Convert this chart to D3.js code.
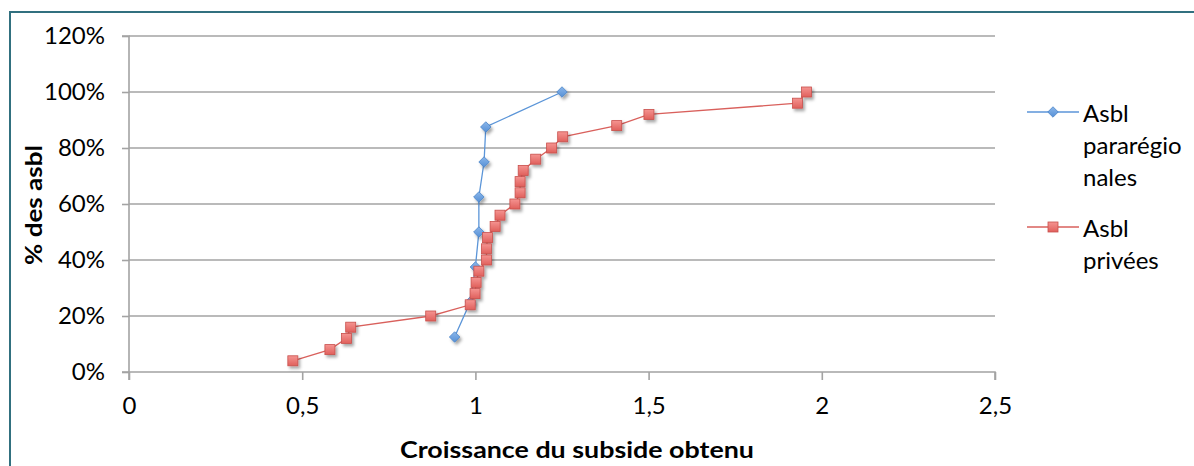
<!DOCTYPE html>
<html>
<head>
<meta charset="utf-8">
<script src="https://cdn.jsdelivr.net/npm/d3@7"></script>
<style>
  html, body { margin: 0; padding: 0; background: #fff; }
  svg { display: block; }
  text { font-family: Lato, "Open Sans", sans-serif; fill: #000; }
</style>
</head>
<body>
<svg id="chart" width="1194" height="466"></svg>
<script>
// Cumulative distribution of subsidy growth, two groups of non-profits
const seriesNames = ["Asbl pararégionales", "Asbl privées"];

// Asbl pararégionales
const paraGrowth = [0.94, 0.985, 1.0, 1.01, 1.01, 1.025, 1.03, 1.25];
const paraShare  = [0.125, 0.25, 0.375, 0.5, 0.625, 0.75, 0.875, 1.0];

// Asbl privées
const privGrowth = [0.473, 0.58, 0.628, 0.64, 0.871, 0.985, 0.999, 1.002, 1.01,
                    1.032, 1.032, 1.035, 1.057, 1.071, 1.114, 1.129, 1.129, 1.138,
                    1.174, 1.22, 1.252, 1.408, 1.501, 1.93, 1.956];
const privShare  = [0.04, 0.08, 0.12, 0.16, 0.20, 0.24, 0.28, 0.32, 0.36, 0.40,
                    0.44, 0.48, 0.52, 0.56, 0.60, 0.64, 0.68, 0.72, 0.76, 0.80,
                    0.84, 0.88, 0.92, 0.96, 1.00];

const xTicks = [0, 0.5, 1, 1.5, 2, 2.5];
const yTicks = [0, 0.2, 0.4, 0.6, 0.8, 1.0, 1.2];

const xTitle = "Croissance du subside obtenu";
const yTitle = "% des asbl";

const svg = d3.select("#chart");

const x = d3.scaleLinear().domain([0, 2.5]).range([129, 995]);
const y = d3.scaleLinear().domain([0, 1.2]).range([372, 36]);

// drop shadow for markers
const defs = svg.append("defs");
const sh = defs.append("filter").attr("id", "shadow")
  .attr("x", "-50%").attr("y", "-50%").attr("width", "200%").attr("height", "200%");
sh.append("feDropShadow").attr("dx", 2).attr("dy", 2.5).attr("stdDeviation", 1.6)
  .attr("flood-color", "#000").attr("flood-opacity", 0.35);

const gRed = defs.append("linearGradient").attr("id", "gRed")
  .attr("x1", 0).attr("y1", 0).attr("x2", 0).attr("y2", 1);
gRed.append("stop").attr("offset", "0%").attr("stop-color", "#f59491");
gRed.append("stop").attr("offset", "100%").attr("stop-color", "#e0605c");
const gBlue = defs.append("linearGradient").attr("id", "gBlue")
  .attr("x1", 0).attr("y1", 0).attr("x2", 0).attr("y2", 1);
gBlue.append("stop").attr("offset", "0%").attr("stop-color", "#8ab6ea");
gBlue.append("stop").attr("offset", "100%").attr("stop-color", "#5690d6");

// outer frame
svg.append("rect")
  .attr("x", 10).attr("y", 12).attr("width", 1200).attr("height", 500)
  .attr("fill", "none").attr("stroke", "#31707f").attr("stroke-width", 2);

// horizontal gridlines
svg.append("g").selectAll("line")
  .data(yTicks.filter(d => d > 0))
  .join("line")
  .attr("x1", x(0)).attr("x2", x(2.5))
  .attr("y1", d => y(d)).attr("y2", d => y(d))
  .attr("stroke", "#a3a3a3").attr("stroke-width", 1.6);

// axes
const yAxis = d3.axisLeft(y).tickValues(yTicks).tickSize(7).tickPadding(17)
  .tickFormat(d3.format(".0%"));
const gy = svg.append("g").attr("transform", `translate(${x(0)},0)`).call(yAxis);

const xAxis = d3.axisBottom(x).tickValues(xTicks).tickSize(8).tickPadding(17)
  .tickFormat(d => String(d).replace(".", ","));
const gx = svg.append("g").attr("transform", `translate(0,${y(0)})`).call(xAxis);

[gy, gx].forEach(g => {
  g.select(".domain").attr("stroke", "#a3a3a3").attr("stroke-width", 1.6);
  g.selectAll(".tick line").attr("stroke", "#a3a3a3").attr("stroke-width", 1.6);
  g.selectAll(".tick text")
    .attr("font-family", "Lato, sans-serif")
    .attr("font-size", 24).attr("fill", "#000");
});
gy.select(".domain").attr("d", `M-7,${y(1.2)}H0V${y(0)}H-7`);
gx.select(".domain").attr("d", `M${x(0)},8V0H${x(2.5)}V8`);

// axis titles
svg.append("text")
  .attr("x", 577).attr("y", 449)
  .attr("text-anchor", "middle").attr("dominant-baseline", "central")
  .attr("font-size", 23).attr("font-weight", "bold")
  .attr("textLength", 354).attr("lengthAdjust", "spacingAndGlyphs")
  .text(xTitle);

svg.append("text")
  .attr("transform", `translate(33,205) rotate(-90)`)
  .attr("text-anchor", "middle").attr("dominant-baseline", "central")
  .attr("font-size", 23).attr("font-weight", "bold")
  .attr("textLength", 120).attr("lengthAdjust", "spacingAndGlyphs")
  .text(yTitle);

const line = d3.line().x(d => x(d[0])).y(d => y(d[1]));
const paraPts = paraGrowth.map((v, i) => [v, paraShare[i]]);
const privPts = privGrowth.map((v, i) => [v, privShare[i]]);

// series lines
svg.append("path").datum(privPts).attr("d", line)
  .attr("fill", "none").attr("stroke", "#d9605c").attr("stroke-width", 1.3);
svg.append("path").datum(paraPts).attr("d", line)
  .attr("fill", "none").attr("stroke", "#5b95d8").attr("stroke-width", 1.3);

const diamond = d3.symbol().type(d3.symbolDiamond2).size(70);

// markers
svg.append("g").attr("filter", "url(#shadow)").selectAll("path")
  .data(paraPts).join("path")
  .attr("transform", d => `translate(${x(d[0])},${y(d[1])})`)
  .attr("d", diamond)
  .attr("fill", "url(#gBlue)").attr("stroke", "#4a84c8").attr("stroke-width", 0.8);

svg.append("g").attr("filter", "url(#shadow)").selectAll("rect")
  .data(privPts).join("rect")
  .attr("x", d => x(d[0]) - 5).attr("y", d => y(d[1]) - 5)
  .attr("width", 10).attr("height", 10)
  .attr("fill", "url(#gRed)").attr("stroke", "#c9504c").attr("stroke-width", 0.8);

// legend
const legend = svg.append("g");
const legendItems = [
  { lines: ["Asbl", "pararégio", "nales"], y: 112, color: "#5b95d8", kind: "diamond" },
  { lines: ["Asbl", "privées"], y: 227, color: "#d9605c", kind: "square" }
];
legendItems.forEach(item => {
  legend.append("line")
    .attr("x1", 1027).attr("x2", 1079).attr("y1", item.y).attr("y2", item.y)
    .attr("stroke", item.color).attr("stroke-width", 1.3);
  if (item.kind === "diamond") {
    legend.append("path").attr("transform", `translate(1053,${item.y})`)
      .attr("d", diamond).attr("fill", "url(#gBlue)").attr("stroke", "#4a84c8").attr("stroke-width", 0.8);
  } else {
    legend.append("rect").attr("x", 1048).attr("y", item.y - 5).attr("width", 10).attr("height", 10)
      .attr("fill", "url(#gRed)").attr("stroke", "#c9504c").attr("stroke-width", 0.8);
  }
  item.lines.forEach((t, i) => {
    legend.append("text")
      .attr("x", 1083).attr("y", item.y + i * 32)
      .attr("dominant-baseline", "central")
      .attr("font-size", 24)
      .text(t);
  });
});
</script>
</body>
</html>
